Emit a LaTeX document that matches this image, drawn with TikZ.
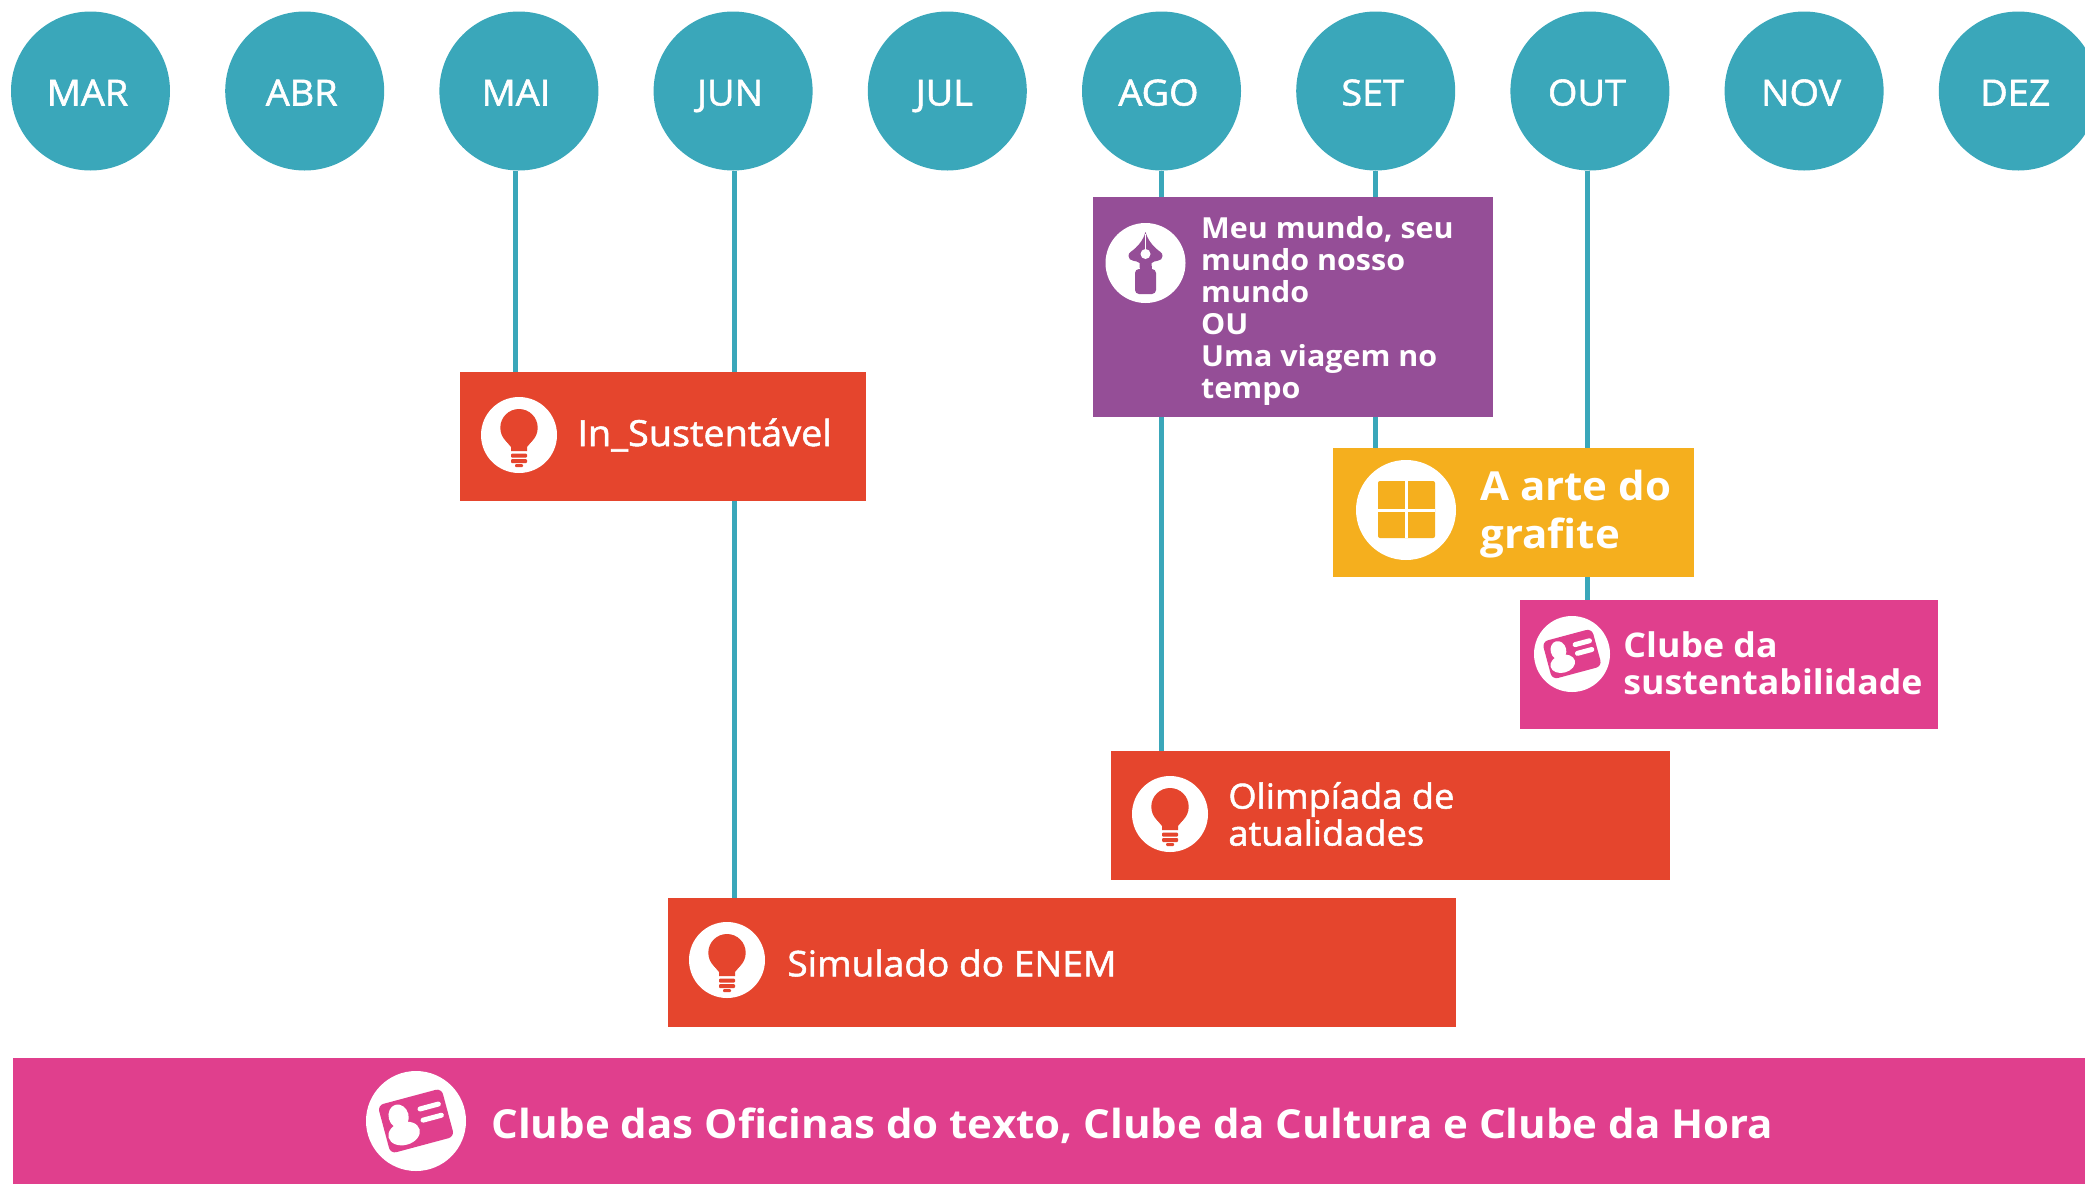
\documentclass[tikz,border=0pt]{standalone}
\usepackage{fontspec}
\setmainfont{Open Sans}[FakeStretch=1.05]
\newfontfamily\medfont{Open Sans}[FakeStretch=1.05, FakeBold=1.5]
\usepackage{xcolor}
\usetikzlibrary{positioning, backgrounds}

\definecolor{teal_line}{HTML}{3AA7BA}
\definecolor{box_red}{HTML}{E5452D}
\definecolor{box_purple}{HTML}{954E97}
\definecolor{box_yellow}{HTML}{F5AF1E}
\definecolor{box_pink}{HTML}{E03F8D}

\begin{document}
\begin{tikzpicture}[x=1pt, y=-1pt, node distance=20pt]
    \tikzset{
        month_disc/.style={circle, fill=teal_line, text=white, inner sep=0pt, minimum size=159pt,
            text height=29pt, text depth=0pt, font=\medfont\fontsize{36}{36}\selectfont},
        event_box/.style={rectangle, anchor=north west, inner sep=0pt},
        icon_disc/.style={circle, fill=white, inner sep=0pt, minimum size=#1},
        label_text/.style={text=white, inner sep=0pt, align=left, anchor=west},
        time_line/.style={draw=teal_line, line width=5pt},
        bulb/.pic={
            \fill[box_red] (0,-7.3) circle (18.7);
            \fill[box_red] (-13,6) -- (-8,12) -- (-8,16) -- (8,16) -- (8,12) -- (13,6) -- cycle;
            \fill[box_red, rounded corners=1pt] (-8,18.6) rectangle (8,22.6);
            \fill[box_red, rounded corners=1pt] (-8,24) rectangle (8,28);
            \fill[box_red, rounded corners=1pt] (-4,29) rectangle (4,32);
        },
        idcard/.pic={
            \begin{scope}[rotate=15]
                \fill[box_pink, rounded corners=6pt] (-33,-25) rectangle (33,25);
                \fill[white] (-15.6,-9) ellipse (10 and 12);
                \fill[white] (-14.7,9) ellipse (16 and 11.5);
                \draw[white, line width=5pt, line cap=round] (7,-10.6) -- (26,-10.6);
                \draw[white, line width=5pt, line cap=round] (7,1) -- (26,1);
            \end{scope}
        },
        nib/.pic={
            \fill[box_purple] (0,-31) .. controls (-2,-24) and (-5,-20) .. (-10,-15)
                .. controls (-14,-11) and (-17,-11) .. (-17,-7)
                .. controls (-17,-1) and (-9,-3) .. (-6,0) -- (-6,5) -- (6,5) -- (6,0)
                .. controls (9,-3) and (17,-1) .. (17,-7)
                .. controls (17,-11) and (14,-11) .. (10,-15)
                .. controls (5,-20) and (2,-24) .. (0,-31) -- cycle;
            \fill[box_purple, rounded corners=4pt] (-10.5,6) rectangle (10.5,31);
            \fill[box_purple] (-6,3) rectangle (6,9);
            \draw[white, line width=.8pt] (0,-29) -- (0,-9);
            \fill[white] (0,-9) circle (5);
        },
        panes/.pic={
            \fill[box_yellow, rounded corners=2pt] (-28,-29) rectangle (29,28);
            \draw[white, line width=3pt] (0,-29) -- (0,28);
            \draw[white, line width=3pt] (-28,0) -- (29,0);
        }
    }
    \useasboundingbox (0,0) rectangle (2085,1184);

    % months
    \foreach \mon [count=\i from 0] in {MAR,ABR,MAI,JUN,JUL,AGO,SET,OUT,NOV,DEZ}
        \node[month_disc] (\mon) at ({90.5+214.2*\i},91) {\mon\kern6pt};

    % boxes
    \node[event_box, fill=box_red, minimum width=406pt, minimum height=129pt] (sustentavel) at (460,372) {};
    \node[event_box, fill=box_purple, minimum width=400pt, minimum height=220pt] (mundo) at (1093,197) {};
    \node[event_box, fill=box_yellow, minimum width=361pt, minimum height=129pt] (grafite) at (1333,448) {};
    \node[event_box, fill=box_pink, minimum width=418pt, minimum height=129pt] (clube_sust) at (1520,600) {};
    \node[event_box, fill=box_red, minimum width=559pt, minimum height=128.5pt] (olimpiada) at (1111,751) {};
    \node[event_box, fill=box_red, minimum width=788pt, minimum height=129pt] (enem) at (668,897.5) {};
    \node[event_box, fill=box_pink, minimum width=2072pt, minimum height=126pt] (oficinas) at (13,1058) {};

    % icons
    \node[icon_disc=76pt] (disc_sust) at (519,435) {};
    \pic at (disc_sust) {bulb};
    \node[icon_disc=80pt] (disc_mundo) at (1145.5,263) {};
    \pic at (disc_mundo) {nib};
    \node[icon_disc=100pt] (disc_grafite) at (1406,510) {};
    \pic at (disc_grafite) {panes};
    \node[icon_disc=76pt] (disc_clube) at (1572,654) {};
    \pic[scale=.78] at (disc_clube) {idcard};
    \node[icon_disc=76pt] (disc_olimp) at (1170,814) {};
    \pic at (disc_olimp) {bulb};
    \node[icon_disc=76pt] (disc_enem) at (727,960) {};
    \pic at (disc_enem) {bulb};
    \node[icon_disc=100pt] (disc_ofic) at (416,1121) {};
    \pic at (disc_ofic) {idcard};

    % labels
    \node[label_text, right=20pt of disc_sust, font=\medfont\fontsize{36}{36}\selectfont] (text_sust) {In\_Sustentável};
    \node[label_text, font=\bfseries\fontsize{29}{32}\selectfont] (text_mundo) at (1201,311)
        {Meu mundo, seu\\mundo nosso\\mundo\\OU\\Uma viagem no\\tempo};
    \node[label_text, right=24pt of disc_grafite, yshift=-4pt, font=\bfseries\fontsize{40}{48}\selectfont] (text_grafite)
        {A arte do\\grafite};
    \node[label_text, right=13pt of disc_clube, yshift=-9pt, font=\bfseries\fontsize{34}{37}\selectfont] (text_clube)
        {Clube da\\sustentabilidade};
    \node[label_text, right=20pt of disc_olimp, font=\medfont\fontsize{34.5}{37}\selectfont] (text_olimp)
        {Olimpíada de\\atualidades};
    \node[label_text, right=22pt of disc_enem, yshift=-3pt, font=\medfont\fontsize{35.3}{36}\selectfont] (text_enem) {Simulado do ENEM};
    \node[label_text, right=25pt of disc_ofic, yshift=-5pt, font=\bfseries\fontsize{40}{40}\selectfont] (text_ofic)
        {Clube das Oficinas do texto, Clube da Cultura e Clube da Hora};

    % connectors behind the boxes
    \begin{pgfonlayer}{background}
        \coordinate (mai_foot) at ([xshift=-3pt]MAI.south);
        \coordinate (jun_foot) at ([xshift=1pt]JUN.south);
        \coordinate (ago_foot) at (AGO.south);
        \coordinate (set_foot) at (SET.south);
        \coordinate (out_foot) at ([xshift=-2pt]OUT.south);
        \path[time_line] (mai_foot) edge (mai_foot |- sustentavel.north);
        \path[time_line] (jun_foot) edge (jun_foot |- enem.north);
        \path[time_line] (ago_foot) edge (ago_foot |- olimpiada.north);
        \path[time_line] (set_foot) edge (set_foot |- grafite.north);
        \path[time_line] (out_foot) edge (out_foot |- clube_sust.north);
    \end{pgfonlayer}
\end{tikzpicture}
\end{document}
